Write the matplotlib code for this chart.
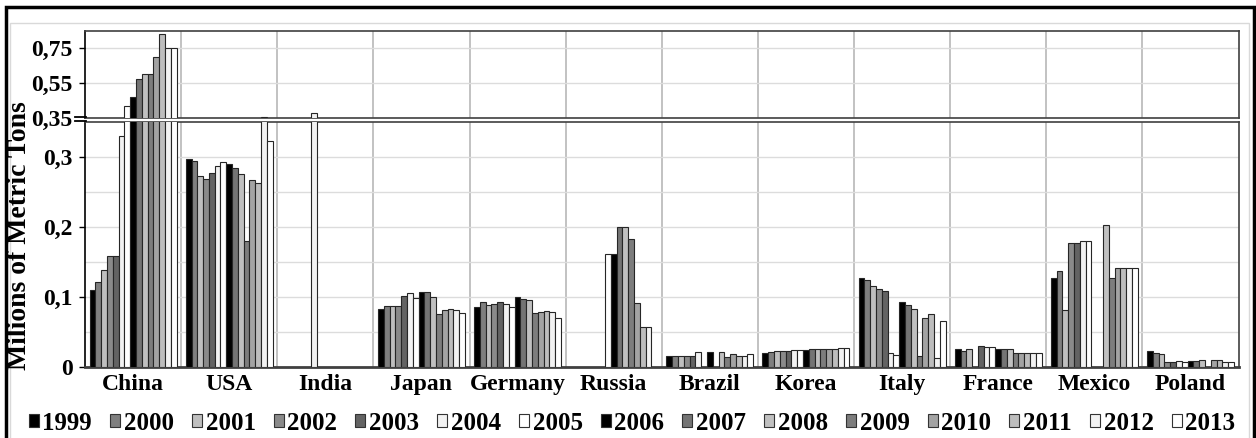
import numpy as np
import matplotlib
matplotlib.use("Agg")
import matplotlib.pyplot as plt
from matplotlib.patches import Patch, Rectangle
from matplotlib.lines import Line2D

nan = np.nan

countries = ["China", "USA", "India", "Japan", "Germany", "Russia", "Brazil",
             "Korea", "Italy", "France", "Mexico", "Poland"]
years = [str(y) for y in range(1999, 2014)]

# values per country, years 1999..2013 (millions of metric tons)
china = [0.110, 0.121, 0.138, 0.158, 0.158, 0.329, 0.420, 0.470, 0.573, 0.603, 0.603, 0.698, 0.832, 0.750, 0.750]
usa = [0.296, 0.294, 0.272, 0.268, 0.277, 0.287, 0.293, 0.289, 0.284, 0.275, 0.179, 0.266, 0.263, 0.360, 0.322]
india = [nan, nan, nan, nan, nan, 0.379, nan, nan, nan, nan, nan, nan, nan, nan, nan]
japan = [0.083, 0.087, 0.087, 0.087, 0.101, 0.106, 0.098, 0.107, 0.107, 0.099, 0.076, 0.081, 0.083, 0.081, 0.077]
germany = [0.085, 0.092, 0.088, 0.090, 0.092, 0.089, 0.086, 0.099, 0.097, 0.095, 0.077, 0.078, 0.079, 0.078, 0.069]
russia = [nan, nan, nan, nan, nan, nan, 0.161, 0.161, 0.200, 0.200, 0.183, 0.091, 0.057, 0.057, nan]
brazil = [0.016, 0.0157, 0.015, 0.015, 0.016, 0.0205, nan, 0.0205, nan, 0.0205, 0.014, 0.0176, 0.0157, 0.0157, 0.018]
korea = [0.020, 0.021, 0.022, 0.023, 0.023, 0.024, 0.024, 0.024, 0.025, 0.025, 0.025, 0.026, 0.026, 0.027, 0.027]
italy = [0.127, 0.124, 0.115, 0.111, 0.108, 0.019, 0.017, 0.093, 0.088, 0.082, 0.015, 0.070, 0.075, 0.013, 0.065]
france = [0.025, 0.022, 0.026, nan, 0.029, 0.028, 0.028, 0.026, 0.026, 0.025, 0.019, 0.020, 0.020, 0.019, 0.019]
mexico = [0.126, 0.136, 0.081, 0.176, 0.176, 0.180, 0.180, nan, nan, 0.2025, 0.127, 0.1405, 0.1405, 0.1405, 0.1405]
poland = [0.022, 0.019, 0.0177, 0.0062, 0.0067, 0.0076, 0.0067, 0.0076, 0.0076, 0.009, nan, 0.009, 0.009, 0.0062, 0.0067]

data = [china, usa, india, japan, germany, russia, brazil, korea, italy, france, mexico, poland]

colors = ['#000000', '#7f7f7f', '#bfbfbf', '#8a8a8a', '#636363', '#f2f2f2', '#ffffff',
          '#000000', '#747474', '#c0c0c0', '#7d7d7d', '#a3a3a3', '#bdbdbd', '#f2f2f2', '#ffffff']

low_ticks = [0, 0.1, 0.2, 0.3]
low_labels = ['0', '0,1', '0,2', '0,3']
low_minor = [0.05, 0.15, 0.25]
top_ticks = [0.35, 0.55, 0.75]
top_labels = ['0,35', '0,55', '0,75']

serif = 'Liberation Serif'
plt.rcParams['font.family'] = [serif, 'DejaVu Serif']
plt.rcParams['font.weight'] = 'bold'

W, H = 1256, 438
fig = plt.figure(figsize=(W / 100, H / 100), dpi=100)

def fx(px):
    return px / W

def fy(py):
    return 1 - py / H

left, right = 85, 1238.5
ax_bot = fig.add_axes([fx(left), fy(366.7), fx(right - left), (366.7 - 121.7) / H])
ax_top = fig.add_axes([fx(left), fy(118.3), fx(right - left), (118.3 - 31.3) / H])

x = np.arange(len(countries))
n = len(years)
bw = 0.904 / n
for ax in (ax_bot, ax_top):
    for j in range(n):
        vals = [c[j] for c in data]
        ax.bar(x + (j - (n - 1) / 2) * bw, vals, bw, color=colors[j],
               edgecolor='#262626', linewidth=0.8, zorder=3)
    ax.set_xlim(-0.5, len(countries) - 0.5)
    ax.set_xticks(np.arange(len(countries) - 1) + 0.5, minor=True)
    ax.grid(which='minor', axis='x', color='#b8b8b8', linewidth=1.2, zorder=0)
    ax.tick_params(axis='x', which='minor', length=0)
    for s in ax.spines.values():
        s.set_color('#404040')
        s.set_linewidth(1.2)
    ax.spines['left'].set_color('black')
    ax.set_axisbelow(True)

ax_bot.set_ylim(0, 0.35)
ax_bot.set_yticks(low_ticks)
ax_bot.set_yticklabels(low_labels)
ax_bot.set_yticks(low_minor, minor=True)
ax_bot.tick_params(axis='y', which='minor', length=0)
ax_bot.grid(which='both', axis='y', color='#dcdcdc', linewidth=1.0, zorder=0)
ax_bot.set_xticks(x)
ax_bot.set_xticklabels(countries)
ax_bot.tick_params(axis='x', which='major', length=0, pad=5, labelsize=17)
ax_bot.tick_params(axis='y', which='major', length=4, width=1, pad=5, labelsize=17)
ax_bot.spines['bottom'].set_linewidth(2)

ax_top.set_ylim(0.35, 0.35 + (118.3 - 31.3) / 175)
ax_top.set_yticks(top_ticks)
ax_top.set_yticklabels(top_labels)
ax_top.grid(which='major', axis='y', color='#dcdcdc', linewidth=1.0, zorder=0)
ax_top.set_xticks([])
ax_top.tick_params(axis='y', which='major', length=4, width=1, pad=5, labelsize=17)
ax_top.yaxis.get_major_ticks()[0].tick1line.set_visible(False)

for lab in ax_bot.get_xticklabels() + ax_bot.get_yticklabels() + ax_top.get_yticklabels():
    lab.set_fontweight('bold')

# axis break marks
for py in (117.0, 121.0):
    fig.add_artist(Line2D([fx(75), fx(86)], [fy(py), fy(py)], transform=fig.transFigure,
                          color='black', linewidth=1.3))

fig.text(fx(20), fy(236), 'Milions of Metric Tons', rotation=90, ha='center', va='center',
         fontsize=20, fontweight='bold')

handles = [Patch(facecolor=colors[j], edgecolor='#333333', linewidth=0.8) for j in range(n)]
fig.legend(handles, years, ncol=n, loc='center', bbox_to_anchor=(fx(632), fy(423)),
           frameon=False, prop={'family': serif, 'weight': 'bold', 'size': 18},
           handlelength=0.4, handleheight=0.4, handletextpad=0.15, columnspacing=0.72,
           borderpad=0, borderaxespad=0)

# frames
fig.add_artist(Rectangle((fx(10), -0.1), fx(1249 - 10), fy(22.7) + 0.1, transform=fig.transFigure,
                         fill=False, edgecolor='#d9d9d9', linewidth=1.0))
fig.add_artist(Rectangle((fx(6), -0.1), fx(1253.5 - 6), fy(6.5) + 0.1, transform=fig.transFigure,
                         fill=False, edgecolor='black', linewidth=2.5))

fig.savefig('out.png', dpi=100, facecolor='white')
